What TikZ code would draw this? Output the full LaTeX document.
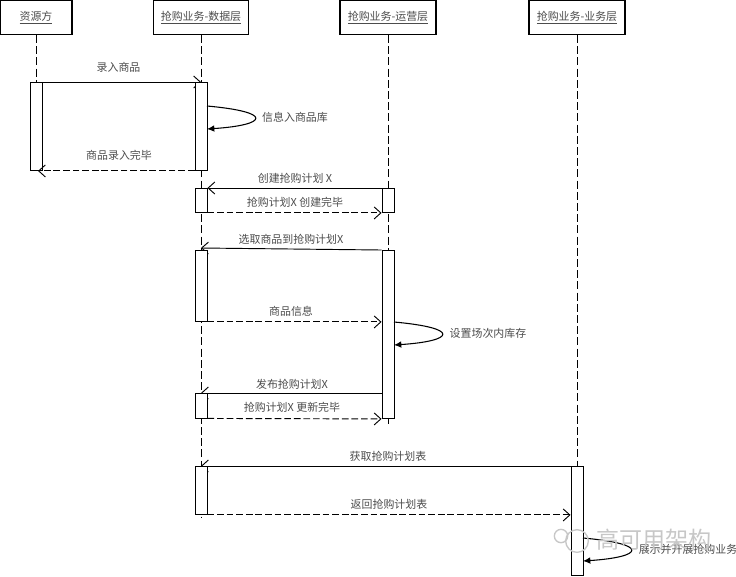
\documentclass[tikz,border=0pt]{standalone}
\usepackage{fontspec}
\setmainfont{Noto Sans CJK SC}
\usepackage{tikz}
\usetikzlibrary{arrows.meta,positioning,calc,backgrounds}
\definecolor{zihui}{gray}{0.3}
\tikzset{
  juese/.style={draw,line width=0.8pt,fill=white,minimum width=#1*0.75pt,minimum height=25.5pt,inner sep=0pt,
                font=\fontsize{8.2}{10}\selectfont,text=zihui},
  shengming/.style={line width=0.65pt,dash pattern=on 6pt off 2.4pt},
  huodong/.style={draw,line width=0.7pt,fill=white,anchor=north,minimum width=9pt,minimum height=#1*0.75pt,inner sep=0pt},
  xiaoxi/.style={line width=0.7pt,-{Straight Barb[length=5pt,width=9pt]}},
  fanhui/.style={line width=0.7pt,dash pattern=on 5pt off 2.2pt,-{Straight Barb[length=5pt,width=9pt]}},
  zidiao/.style={line width=0.8pt,-{Latex[length=5.5pt,width=5pt]}},
  biaoqian/.style={font=\fontsize{8.2}{10}\selectfont,text=zihui,inner sep=0pt},
  shuiyin/.style={font=\fontsize{17.3}{20}\selectfont,text=black!22,inner sep=0pt},
}
\begin{document}
\begin{tikzpicture}[x=0.75pt,y=-0.75pt]
  \useasboundingbox (0,0) rectangle (736,576);
  % roles
  \node[juese=72] (ziyuan) at (36,17.5) {\underline{资源方}};
  \node[juese=95] (shuju) at (201,17.5) {\underline{抢购业务-数据层}};
  \node[juese=96] (yunying) at (388,17.5) {\underline{抢购业务-运营层}};
  \node[juese=96] (yewu) at (577,17.5) {\underline{抢购业务-业务层}};
  \coordinate (ziyuanend) at (36,90);
  \coordinate (shujuend) at (201,518);
  \coordinate (yunyingend) at (388,424);
  \coordinate (yewuend) at (577,470);
  % activations
  \node[huodong=88] (a1) at (36,82) {};
  \node[huodong=88] (b1) at (201,82) {};
  \node[huodong=24] (b2) at (201,188) {};
  \node[huodong=24] (c2) at (388,188) {};
  \node[huodong=71] (b3) at (201,250) {};
  \node[huodong=168] (c3) at (388,250) {};
  \node[huodong=24.5] (b4) at (201,393) {};
  \node[huodong=48] (b5) at (201,466) {};
  \node[huodong=109] (d5) at (577,466) {};
  % these run under the activations
  \begin{scope}[on background layer]
    \draw[shengming] (ziyuan) -- (ziyuanend);
    \draw[shengming] (shuju) -- (shujuend);
    \draw[shengming] (yunying) -- (yunyingend);
    \draw[shengming] (yewu) -- (yewuend);
    \draw[xiaoxi] (a1.north east) -- (b1.north);
    \draw[xiaoxi] (c3.north west) -- ($(b3.north)+(0,-2)$);
    \draw[xiaoxi] (b4.north-|c3.west) -- (b4.north);
    \draw[xiaoxi] (d5.north west) -- (b5.north);
  \end{scope}
  % messages
  \draw[fanhui] (b1.south west) -- ($(a1.south)+(2,0)$);
  \draw[xiaoxi] (c2.north west) -- (b2.north east);
  \draw[fanhui] (b2.south east) -- (c2.south west);
  \draw[fanhui] (b3.south east) -- (b3.south east-|c3.west);
  \draw[fanhui] (b4.south east) -- (c3.south west);
  \draw[fanhui] (b5.south east) -- (b5.south east-|d5.west);
  % self calls
  \coordinate (s1) at (207,106); \coordinate (e1) at (207,129);
  \coordinate (s2) at (394,322); \coordinate (e2) at (394,345);
  \coordinate (s3) at (583,538); \coordinate (e3) at (583,561);
  \draw[zidiao] (s1) .. controls (274,112) and (268,125) .. (e1);
  \draw[zidiao] (s2) .. controls (461,328) and (455,341) .. (e2);
  \draw[zidiao] (s3) .. controls (650,544) and (644,557) .. (e3);
  % labels
  \node[biaoqian] (t1) at (118.5,67) {录入商品};
  \node[biaoqian] (t2) at (295,117) {信息入商品库};
  \node[biaoqian] (t3) at (119,155) {商品录入完毕};
  \node[biaoqian] (t4) at (295,178) {创建抢购计划 X};
  \node[biaoqian] (t5) at (295,202) {抢购计划X 创建完毕};
  \node[biaoqian] (t6) at (291,239) {选取商品到抢购计划X};
  \node[biaoqian] (t7) at (291,311) {商品信息};
  \node[biaoqian] (t8) at (488,333) {设置场次内库存};
  \node[biaoqian] (t9) at (292,384) {发布抢购计划X};
  \node[biaoqian] (t10) at (292,407) {抢购计划X 更新完毕};
  \node[biaoqian] (t11) at (388,456) {获取抢购计划表};
  \node[biaoqian] (t12) at (389,504) {返回抢购计划表};
  \node[biaoqian] (t13) at (688,549) {展示并开展抢购业务};
  % watermark
  \node[shuiyin] (sy) at (654,540) {高可用架构};
  \node[draw=black!22,circle,minimum size=17pt,inner sep=0pt,line width=1pt] (q1) at (577,541) {};
  \node[draw=black!22,circle,minimum size=10pt,inner sep=0pt,line width=1pt] (q2) at (561,536) {};
\end{tikzpicture}
\end{document}
